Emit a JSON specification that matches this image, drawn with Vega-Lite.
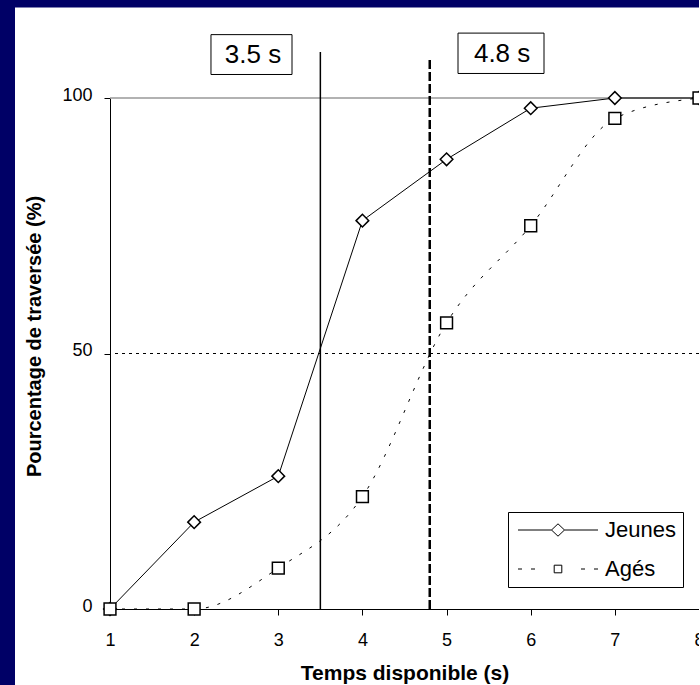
{
  "$schema": "https://vega.github.io/schema/vega-lite/v6.json",
  "width": 589,
  "height": 511,
  "autosize": {"type": "none"},
  "padding": {"left": 110, "top": 98, "right": 0, "bottom": 76},
  "background": "white",
  "config": {
    "view": {"stroke": null, "fill": null},
    "font": "Liberation Sans",
    "axis": {
      "grid": false,
      "zindex": 1,
      "domainColor": "black",
      "tickColor": "black",
      "tickSize": 6,
      "labelFont": "Liberation Sans",
      "labelFontSize": 18,
      "labelColor": "black",
      "labelFlush": false,
      "titleFont": "Liberation Sans",
      "titleFontWeight": "bold",
      "titleColor": "black"
    }
  },
  "datasets": {
    "pts": [
      {"t": 1, "p": 0, "g": "Jeunes"},
      {"t": 2, "p": 17, "g": "Jeunes"},
      {"t": 3, "p": 26, "g": "Jeunes"},
      {"t": 4, "p": 76, "g": "Jeunes"},
      {"t": 5, "p": 88, "g": "Jeunes"},
      {"t": 6, "p": 98, "g": "Jeunes"},
      {"t": 7, "p": 100, "g": "Jeunes"},
      {"t": 8, "p": 100, "g": "Jeunes"},
      {"t": 1, "p": 0, "g": "Agés"},
      {"t": 2, "p": 0, "g": "Agés"},
      {"t": 3, "p": 8, "g": "Agés"},
      {"t": 4, "p": 22, "g": "Agés"},
      {"t": 5, "p": 56, "g": "Agés"},
      {"t": 6, "p": 75, "g": "Agés"},
      {"t": 7, "p": 96, "g": "Agés"},
      {"t": 8, "p": 100, "g": "Agés"}
    ],
    "one": [{}]
  },
  "data": {"name": "pts"},
  "layer": [
    {
      "data": {"name": "one"},
      "mark": {"type": "rect", "fill": "#000066"},
      "encoding": {
        "x": {"datum": -1.5, "type": "quantitative", "scale": {"domain": [1, 8], "nice": false, "zero": false}},
        "x2": {"datum": -0.129},
        "y": {"datum": 130, "type": "quantitative", "scale": {"domain": [0, 100], "nice": false}},
        "y2": {"datum": -20}
      }
    },
    {
      "data": {"name": "one"},
      "mark": {"type": "rect", "fill": "#000066"},
      "encoding": {
        "x": {"datum": -1.5, "type": "quantitative"},
        "x2": {"datum": 9},
        "y": {"datum": 130, "type": "quantitative"},
        "y2": {"datum": 117.7}
      }
    },
    {
      "data": {"name": "one"},
      "mark": {"type": "rule", "color": "#999999", "strokeWidth": 1.5},
      "encoding": {"y": {"datum": 100, "type": "quantitative"}}
    },
    {
      "data": {"name": "one"},
      "mark": {"type": "rule", "color": "black", "strokeWidth": 1, "strokeDash": [3, 4]},
      "encoding": {"y": {"datum": 50, "type": "quantitative"}}
    },
    {
      "transform": [{"filter": "datum.g === 'Jeunes'"}],
      "mark": {"type": "line", "color": "black", "strokeWidth": 1},
      "encoding": {
        "x": {
          "field": "t", "type": "quantitative",
          "scale": {"domain": [1, 8], "nice": false, "zero": false},
          "title": "Temps disponible (s)",
          "axis": {
            "values": [1, 2, 3, 4, 5, 6, 7, 8],
            "format": "d",
            "labelFontSize": 18,
            "labelPadding": 16,
            "titleFontSize": 21,
            "titleFontWeight": "bold",
            "titleBaseline": "middle",
            "titleY": 64
          }
        },
        "y": {
          "field": "p", "type": "quantitative",
          "scale": {"domain": [0, 100], "nice": false},
          "title": "Pourcentage de traversée (%)",
          "axis": {
            "values": [0, 50, 100],
            "format": "d",
            "labelFontSize": 18,
            "labelPadding": 12,
            "labelOffset": -3,
            "titleFontSize": 20,
            "titleFontWeight": "bold",
            "titleAngle": 270,
            "titleAlign": "center",
            "titleBaseline": "middle",
            "titleX": -76,
            "titleY": 238
          }
        }
      }
    },
    {
      "transform": [{"filter": "datum.g === 'Agés'"}],
      "mark": {"type": "line", "color": "black", "strokeWidth": 1, "interpolate": "monotone", "strokeDash": [3, 9]},
      "encoding": {
        "x": {"field": "t", "type": "quantitative", "title": "Temps disponible (s)"},
        "y": {"field": "p", "type": "quantitative", "title": "Pourcentage de traversée (%)"}
      }
    },
    {
      "transform": [{"filter": "datum.g === 'Jeunes'"}],
      "mark": {"type": "point", "shape": "diamond", "size": 160, "filled": true, "fill": "white", "stroke": "black", "strokeWidth": 1.5, "opacity": 1},
      "encoding": {
        "x": {"field": "t", "type": "quantitative", "title": "Temps disponible (s)"},
        "y": {"field": "p", "type": "quantitative", "title": "Pourcentage de traversée (%)"}
      }
    },
    {
      "transform": [{"filter": "datum.g === 'Agés'"}],
      "mark": {"type": "point", "shape": "square", "size": 140, "filled": true, "fill": "white", "stroke": "black", "strokeWidth": 1.5, "opacity": 1},
      "encoding": {
        "x": {"field": "t", "type": "quantitative", "title": "Temps disponible (s)"},
        "y": {"field": "p", "type": "quantitative", "title": "Pourcentage de traversée (%)"}
      }
    },
    {
      "transform": [{"filter": "datum.t > 100"}],
      "mark": {"type": "point", "color": "black", "filled": false},
      "encoding": {
        "x": {"field": "t", "type": "quantitative", "title": "Temps disponible (s)"},
        "y": {"field": "p", "type": "quantitative", "title": "Pourcentage de traversée (%)"},
        "shape": {
          "field": "g", "type": "nominal",
          "scale": {
            "domain": ["Jeunes", "Agés"],
            "range": [
              "M-0.8,0L2.55,0M3.85,0L7.2,0M3.2,-0.62L3.85,0L3.2,0.62L2.55,0Z",
              "M-0.8,0L-0.4,0M0.5,0L0.9,0M5.5,0L5.9,0M6.8,0L7.2,0M2.82,-0.38L3.58,-0.38L3.58,0.38L2.82,0.38Z"
            ]
          },
          "legend": {
            "title": null,
            "orient": "none",
            "legendX": 398,
            "legendY": 414,
            "strokeColor": "black",
            "fillColor": "white",
            "padding": 7,
            "labelFont": "Liberation Sans",
            "labelFontSize": 22,
            "labelColor": "black",
            "labelOffset": 68,
            "symbolSize": 400,
            "symbolStrokeColor": "black",
            "symbolFillColor": "white",
            "symbolStrokeWidth": 1,
            "symbolOpacity": 1,
            "rowPadding": 17
          }
        }
      }
    },
    {
      "data": {"name": "one"},
      "mark": {"type": "rule", "color": "black", "strokeWidth": 1.5},
      "encoding": {
        "x": {"datum": 3.5, "type": "quantitative"},
        "y": {"datum": 0, "type": "quantitative"},
        "y2": {"datum": 109}
      }
    },
    {
      "data": {"name": "one"},
      "mark": {"type": "rule", "color": "black", "strokeWidth": 2.5, "strokeDash": [9, 3]},
      "encoding": {
        "x": {"datum": 4.8, "type": "quantitative"},
        "y": {"datum": 0, "type": "quantitative"},
        "y2": {"datum": 108}
      }
    },
    {
      "data": {"name": "one"},
      "mark": {"type": "rect", "fill": "white", "stroke": "black", "strokeWidth": 1},
      "encoding": {
        "x": {"datum": 2.2, "type": "quantitative"},
        "x2": {"datum": 3.163},
        "y": {"datum": 112.4, "type": "quantitative"},
        "y2": {"datum": 104.6}
      }
    },
    {
      "data": {"name": "one"},
      "mark": {"type": "rect", "fill": "white", "stroke": "black", "strokeWidth": 1},
      "encoding": {
        "x": {"datum": 5.136, "type": "quantitative"},
        "x2": {"datum": 6.158},
        "y": {"datum": 112.7, "type": "quantitative"},
        "y2": {"datum": 104.8}
      }
    },
    {
      "data": {"name": "one"},
      "mark": {"type": "text", "fontSize": 26, "fill": "black", "align": "center", "baseline": "middle", "text": "3.5 s"},
      "encoding": {
        "x": {"datum": 2.7, "type": "quantitative"},
        "y": {"datum": 108.4, "type": "quantitative"}
      }
    },
    {
      "data": {"name": "one"},
      "mark": {"type": "text", "fontSize": 26, "fill": "black", "align": "center", "baseline": "middle", "text": "4.8 s"},
      "encoding": {
        "x": {"datum": 5.66, "type": "quantitative"},
        "y": {"datum": 108.6, "type": "quantitative"}
      }
    }
  ]
}
